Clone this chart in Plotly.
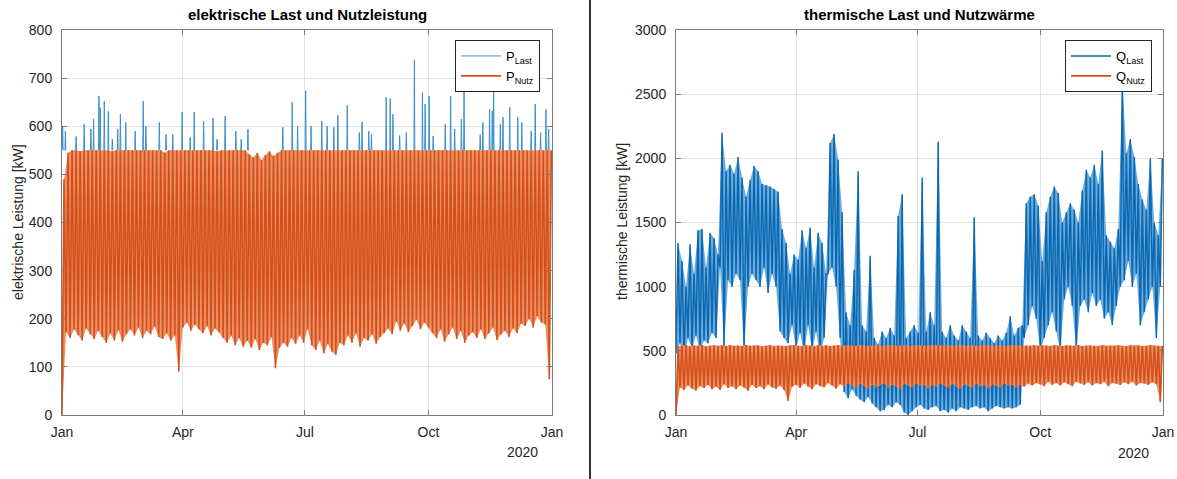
import pandas as pd
import plotly.graph_objects as go

# ---------------- data (3-day steps from 1 Jan 2019) ----------------
START = "2019-01-01"
STEP_DAYS = 3

# electrical: lower / upper envelope of P_Nutz per 3-day step [kW]
p_nutz_lo = [
    0, 172, 160, 178, 166, 155, 180, 168, 158, 175,
    162, 150, 170, 155, 176, 152, 168, 178, 165, 182,
    160, 175, 168, 184, 162, 158, 170, 155, 165, 90,
    182, 192, 175, 188, 178, 170, 185, 165, 180, 172,
    160, 150, 165, 145, 160, 142, 155, 140, 158, 135,
    150, 145, 162, 97, 140, 150, 142, 160, 148, 165,
    150, 178, 145, 135, 155, 128, 148, 132, 125, 150,
    145, 165, 150, 170, 142, 160, 155, 168, 148, 162,
    170, 180, 168, 195, 175, 190, 172, 185, 198, 178,
    192, 182, 170, 160, 178, 152, 168, 182, 158, 175,
    150, 165, 172, 160, 178, 158, 170, 182, 156, 168,
    175, 162, 180, 170, 190, 185, 200, 182, 205, 192,
    188, 75,
]
p_nutz_hi = [
    490, 545, 550, 550, 548, 550, 550, 550, 550, 550,
    550, 550, 548, 550, 550, 550, 550, 550, 550, 550,
    550, 550, 550, 550, 550, 545, 550, 550, 550, 550,
    550, 550, 550, 550, 550, 550, 550, 550, 548, 550,
    550, 550, 550, 550, 550, 550, 542, 535, 545, 530,
    540, 548, 538, 545, 550, 550, 550, 550, 550, 550,
    550, 550, 550, 550, 550, 550, 550, 550, 550, 550,
    550, 550, 550, 550, 550, 550, 550, 550, 550, 550,
    550, 550, 550, 550, 550, 550, 550, 550, 550, 550,
    550, 550, 550, 550, 550, 550, 550, 550, 550, 550,
    550, 550, 550, 550, 550, 550, 550, 550, 550, 550,
    550, 550, 550, 550, 550, 550, 550, 550, 550, 550,
    550, 550,
]
p_cap = 550  # P_Nutz limit, P_Last peaks above it
p_last_spike_day = [
    0, 2, 10, 16, 21, 23, 27, 28, 31, 34, 37, 41, 43, 47, 54, 60, 62, 72, 77, 82,
    89, 95, 98, 105, 112, 115, 121, 129, 133, 138, 164, 171, 175, 181, 185, 193, 197, 202, 205, 212,
    221, 223, 228, 230, 241, 244, 246, 251, 256, 262, 268, 270, 273, 276, 285, 289, 292, 297, 299, 311,
    313, 318, 320, 321, 326, 328, 333, 339, 342, 349, 352, 356, 360, 362,
]
p_last_spike_kw = [
    600, 590, 579, 604, 594, 615, 663, 639, 652, 631, 573, 594, 625, 608, 590, 652, 600, 608, 583, 583,
    629, 577, 629, 610, 617, 573, 621, 590, 573, 594, 598, 650, 600, 674, 600, 611, 600, 598, 623, 644,
    587, 609, 590, 583, 660, 658, 625, 581, 587, 738, 670, 646, 663, 580, 604, 663, 594, 615, 681, 583,
    608, 635, 632, 700, 604, 619, 640, 619, 608, 590, 646, 587, 635, 594,
]

# thermal: lower / upper envelopes per 3-day step [kW]
q_last_lo = [
    480, 560, 450, 600, 520, 620, 500, 580, 560, 640,
    600, 1150, 520, 1050, 1000, 1100, 1050, 500, 1000, 1100,
    1050, 1000, 1150, 950, 1100, 1000, 650, 600, 560, 700,
    520, 640, 480, 700, 500, 650, 460, 600, 1100, 1150,
    1000, 600, 180, 130, 200, 150, 120, 100, 140, 90,
    60, 30, 40, 80, 60, 100, 80, 20, 0, 30,
    60, 80, 50, 40, 60, 70, 30, 40, 20, 50,
    30, 60, 50, 40, 60, 70, 50, 60, 30, 50,
    70, 60, 50, 60, 50, 60, 80, 600, 700, 850,
    750, 500, 600, 700, 800, 650, 500, 900, 1000, 850,
    500, 850, 900, 800, 950, 850, 900, 750, 800, 700,
    850, 1000, 1050, 1200, 1000, 1100, 700, 800, 900, 1000,
    600, 1000,
]
q_last_hi = [
    1340, 1200, 1000, 1330, 1100, 1440, 1450, 1150, 1420, 1380,
    1250, 2200, 1900, 1950, 1880, 2010, 1850, 1700, 1830, 1940,
    1900, 1800, 1790, 1780, 1760, 1740, 1450, 1340, 1100, 1250,
    1210, 1440, 1300, 1460, 1150, 1420, 1340, 1100, 2120, 2190,
    1990, 1580, 800, 700, 1130, 1900, 700, 650, 1240, 600,
    550, 650, 600, 680, 620, 1550, 1720, 600, 650, 700,
    640, 1850, 650, 800, 700, 2130, 650, 600, 700, 620,
    580, 700, 650, 600, 1540, 620, 580, 640, 600, 560,
    620, 580, 640, 770, 620, 680, 700, 1650, 1700, 1720,
    1630, 1200, 1580, 1700, 1780, 1730, 1500, 1580, 1650, 1600,
    1500, 1750, 1910, 1850, 1950, 1800, 2060, 1400, 1350, 1300,
    1450, 2600, 2040, 2150, 2010, 1800, 1680, 1600, 2000, 1500,
    1400, 2000,
]
q_nutz_lo = [
    0, 215, 195, 230, 205, 190, 225, 210, 235, 200,
    220, 195, 240, 210, 225, 200, 230, 215, 190, 235,
    210, 225, 200, 240, 215, 205, 230, 195, 110, 220,
    235, 210, 245, 220, 200, 240, 225, 215, 250, 230,
    205, 240, 220, 250, 230, 210, 245, 225, 200, 240,
    215, 235, 250, 210, 240, 225, 200, 245, 230, 215,
    250, 225, 240, 205, 235, 220, 250, 230, 210, 245,
    225, 200, 240, 230, 215, 250, 220, 235, 205, 240,
    230, 215, 250, 225, 240, 210, 235, 220, 245, 230,
    250, 240, 225, 260, 235, 250, 230, 255, 240, 225,
    260, 245, 235, 255, 230, 250, 240, 260, 225, 250,
    245, 235, 255, 240, 260, 230, 250, 245, 235, 255,
    240, 100,
]
q_nutz_hi = [
    535, 540, 545, 538, 542, 540, 546, 536, 541, 544,
    539, 543, 537, 545, 540, 542, 538, 546, 540, 541,
    544, 536, 540, 545, 538, 542, 540, 537, 543, 546,
    540, 538, 544, 541, 536, 545, 540, 543, 538, 542,
    546, 539, 541, 544, 537, 540, 545, 538, 542, 540,
    543, 536, 540, 545, 541, 538, 544, 540, 537, 542,
    545, 540, 538, 543, 541, 546, 539, 540, 544, 537,
    541, 545, 538, 540, 543, 536, 542, 545, 540, 538,
    544, 541, 537, 543, 540, 546, 538, 542, 540, 545,
    539, 543, 541, 537, 545, 540, 538, 544, 542, 540,
    546, 538, 541, 543, 540, 537, 545, 540, 542, 539,
    544, 540, 538, 545, 541, 543, 537, 540, 546, 542,
    540, 538,
]

month_ticks = ["2019-01-01", "2019-04-01", "2019-07-01", "2019-10-01", "2020-01-01"]
month_labels = ["Jan", "Apr", "Jul", "Oct", "Jan"]
x_range = ["2019-01-01", "2020-01-01"]

# ---------------- helpers ----------------
t0 = pd.Timestamp(START)


def step_time(i, half=False):
    return t0 + pd.Timedelta(days=STEP_DAYS * i) + (pd.Timedelta(hours=36) if half else pd.Timedelta(0))


def zigzag(lo, hi):
    xs, ys = [], []
    for i, (l, h) in enumerate(zip(lo, hi)):
        xs += [step_time(i), step_time(i, True)]
        ys += [l, h]
    return xs, ys


def band(lo, hi):
    xs_hi = [step_time(i, True) for i in range(len(hi))]
    xs_lo = [step_time(i) for i in range(len(lo))]
    return xs_hi + xs_lo[::-1], list(hi) + list(lo)[::-1]


BLUE = "#0b68b0"
BLUE_FILL = "#6aacdf"
BLUE_THIN = "#3c8fcd"
ORANGE = "#d4501a"
ORANGE_FILL = "#ec9065"

fig = go.Figure()

# ---- left: P_Last spikes ----
sx, sy = [], []
for d, v in zip(p_last_spike_day, p_last_spike_kw):
    t = t0 + pd.Timedelta(days=d, hours=12)
    sx += [t - pd.Timedelta(hours=8), t, t + pd.Timedelta(hours=8), None]
    sy += [p_cap, v, p_cap, None]
fig.add_trace(go.Scatter(x=sx, y=sy, mode="lines", line=dict(color=BLUE_THIN, width=1),
                         name="P<sub>Last</sub>", legend="legend", xaxis="x", yaxis="y",
                         hoverinfo="skip"))
bx, by = band(p_nutz_lo, p_nutz_hi)
fig.add_trace(go.Scatter(x=bx, y=by, fill="toself", fillcolor=ORANGE_FILL, line=dict(width=0),
                         mode="lines", showlegend=False, xaxis="x", yaxis="y", hoverinfo="skip"))
zx, zy = zigzag(p_nutz_lo, p_nutz_hi)
fig.add_trace(go.Scatter(x=zx, y=zy, mode="lines", line=dict(color=ORANGE, width=1.6),
                         name="P<sub>Nutz</sub>", legend="legend", xaxis="x", yaxis="y",
                         hoverinfo="skip"))

# ---- right: Q_Last and Q_Nutz ----
bx, by = band(q_last_lo, q_last_hi)
fig.add_trace(go.Scatter(x=bx, y=by, fill="toself", fillcolor=BLUE_FILL, line=dict(width=0),
                         mode="lines", showlegend=False, xaxis="x2", yaxis="y2", hoverinfo="skip"))
zx, zy = zigzag(q_last_lo, q_last_hi)
fig.add_trace(go.Scatter(x=zx, y=zy, mode="lines", line=dict(color=BLUE, width=1.5),
                         name="Q<sub>Last</sub>", legend="legend2", xaxis="x2", yaxis="y2",
                         hoverinfo="skip"))
bx, by = band(q_nutz_lo, q_nutz_hi)
fig.add_trace(go.Scatter(x=bx, y=by, fill="toself", fillcolor=ORANGE_FILL, line=dict(width=0),
                         mode="lines", showlegend=False, xaxis="x2", yaxis="y2", hoverinfo="skip"))
zx, zy = zigzag(q_nutz_lo, q_nutz_hi)
fig.add_trace(go.Scatter(x=zx, y=zy, mode="lines", line=dict(color=ORANGE, width=1.6),
                         name="Q<sub>Nutz</sub>", legend="legend2", xaxis="x2", yaxis="y2",
                         hoverinfo="skip"))

W, H = 1177, 479
FONT = "Liberation Sans, Arial, Helvetica, sans-serif"
TICKFONT = dict(family=FONT, size=14, color="#262626")
AXLINE = "#7a7a7a"
GRID = "#e3e3e3"

yd = [(H - 415) / H, (H - 30) / H]

common_x = dict(type="date", range=x_range, tickmode="array", tickvals=month_ticks, ticktext=month_labels,
                showgrid=True, gridcolor=GRID, gridwidth=1, showline=True, linecolor=AXLINE, linewidth=1,
                mirror="ticks", ticks="inside", ticklen=5, tickcolor=AXLINE, tickfont=TICKFONT,
                ticklabelstandoff=4,
                zeroline=False, automargin=False, fixedrange=True)
common_y = dict(showgrid=True, gridcolor=GRID, gridwidth=1, showline=True, linecolor=AXLINE, linewidth=1,
                mirror="ticks", ticks="inside", ticklen=5, tickcolor=AXLINE, tickfont=TICKFONT,
                ticklabelstandoff=6,
                zeroline=False, automargin=False, fixedrange=True, tickmode="linear", tick0=0)

LEGFONT = dict(family=FONT, size=13, color="#000")
fig.update_layout(
    width=W, height=H,
    margin=dict(l=0, r=0, t=0, b=0),
    paper_bgcolor="white", plot_bgcolor="white",
    font=dict(family=FONT, color="#262626"),
    xaxis=dict(domain=[62 / W, 552 / W], anchor="y", **common_x),
    yaxis=dict(domain=yd, anchor="x", range=[0, 800], dtick=100, **common_y),
    xaxis2=dict(domain=[676 / W, 1163 / W], anchor="y2", **common_x),
    yaxis2=dict(domain=yd, anchor="x2", range=[0, 3000], dtick=500, **common_y),
    legend=dict(x=540 / W, y=1 - 40 / H, xanchor="right", yanchor="top", bgcolor="white",
                bordercolor="#262626", borderwidth=1, font=LEGFONT, tracegroupgap=0, itemwidth=40),
    legend2=dict(x=1152 / W, y=1 - 40 / H, xanchor="right", yanchor="top", bgcolor="white",
                 bordercolor="#262626", borderwidth=1, font=LEGFONT, tracegroupgap=0, itemwidth=40),
    showlegend=True,
)

ann = []
ann.append(dict(text="<b>elektrische Last und Nutzleistung</b>", x=307 / W, y=1 - 15 / H, xref="paper", yref="paper",
                showarrow=False, font=dict(family=FONT, size=15, color="#000"), xanchor="center", yanchor="middle"))
ann.append(dict(text="<b>thermische Last und Nutzwärme</b>", x=919 / W, y=1 - 15 / H, xref="paper", yref="paper",
                showarrow=False, font=dict(family=FONT, size=15, color="#000"), xanchor="center", yanchor="middle"))
ann.append(dict(text="elektrische Leistung [kW]", x=18 / W, y=1 - 222 / H, xref="paper", yref="paper",
                textangle=-90, showarrow=False, font=dict(family=FONT, size=14, color="#262626"),
                xanchor="center", yanchor="middle"))
ann.append(dict(text="thermische Leistung [kW]", x=622 / W, y=1 - 222 / H, xref="paper", yref="paper",
                textangle=-90, showarrow=False, font=dict(family=FONT, size=14, color="#262626"),
                xanchor="center", yanchor="middle"))
ann.append(dict(text="2020", x=522 / W, y=1 - 452 / H, xref="paper", yref="paper", showarrow=False,
                font=TICKFONT, xanchor="center", yanchor="middle"))
ann.append(dict(text="2020", x=1133 / W, y=1 - 453 / H, xref="paper", yref="paper", showarrow=False,
                font=TICKFONT, xanchor="center", yanchor="middle"))
fig.update_layout(annotations=ann)

fig.add_shape(type="line", xref="paper", yref="paper", x0=590 / W, x1=590 / W, y0=0, y1=1,
              line=dict(color="#333333", width=2))

fig.write_html("out.html", config={"displayModeBar": False},
               post_script="document.body.style.margin='0';document.body.style.overflow='hidden';")
